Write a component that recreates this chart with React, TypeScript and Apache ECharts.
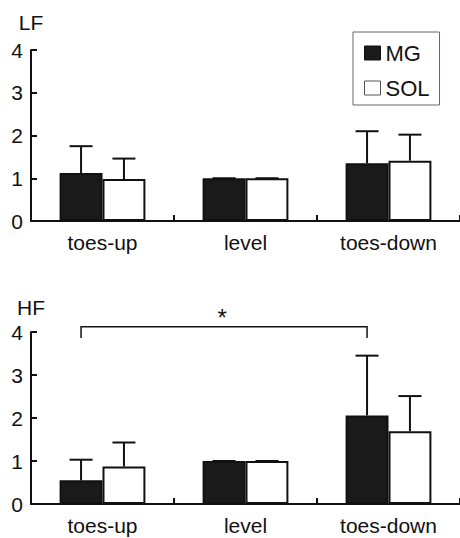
import React, { useEffect, useRef } from "react";
import * as echarts from "echarts";

const categories = ["toes-up", "level", "toes-down"];
const seriesNames = ["MG", "SOL"];

// LF panel (mean and SD)
const lfMG = [1.12, 1.0, 1.35];
const lfMGSD = [0.63, 0, 0.75];
const lfSOL = [0.98, 1.0, 1.41];
const lfSOLSD = [0.48, 0, 0.61];

// HF panel (mean and SD)
const hfMG = [0.55, 1.0, 2.06];
const hfMGSD = [0.48, 0, 1.39];
const hfSOL = [0.87, 1.0, 1.69];
const hfSOLSD = [0.56, 0, 0.82];

const yTicks = [0, 1, 2, 3, 4];
const panelNames = ["LF", "HF"];

// significance annotation (HF panel): toes-up MG vs toes-down MG
const sigFrom = 0;
const sigTo = 2;
const sigLevel = 4.12;
const sigDrop = 3.86;
const sigStarLevel = 4.34;
const sigLabel = "*";

const FONT = "'Liberation Sans', Arial, Helvetica, sans-serif";
const INK = "#111";

function errRender(offsetFactor: number) {
  return (params: any, api: any) => {
    const xi = api.value(0);
    const mean = api.value(1);
    const sd = api.value(2);
    const band = api.size([1, 0])[0];
    const off = offsetFactor * band;
    const base = api.coord([xi, mean]);
    const top = api.coord([xi, mean + sd]);
    const x = base[0] + off;
    const st = { stroke: INK, lineWidth: 2 };
    return {
      type: "group",
      children: [
        { type: "line", shape: { x1: x, y1: base[1], x2: x, y2: top[1] }, style: st },
        { type: "line", shape: { x1: x - 11.5, y1: top[1], x2: x + 11.5, y2: top[1] }, style: st },
      ],
    };
  };
}

function bracketRender(params: any, api: any) {
  const band = api.size([1, 0])[0];
  const off = -0.15 * band;
  const a = api.coord([api.value(0), api.value(2)]);
  const b = api.coord([api.value(1), api.value(2)]);
  const d = api.coord([api.value(0), api.value(3)]);
  const s = api.coord([api.value(0), api.value(4)]);
  const x1 = a[0] + off;
  const x2 = b[0] + off;
  const st = { stroke: INK, lineWidth: 1.5, fill: null };
  return {
    type: "group",
    children: [
      {
        type: "polyline",
        shape: { points: [[x1, d[1]], [x1, a[1]], [x2, a[1]], [x2, d[1]]] },
        style: st,
      },
      {
        type: "text",
        x: (x1 + x2) / 2 - 2,
        y: s[1],
        style: {
          text: sigLabel,
          fontSize: 24,
          fontFamily: FONT,
          fill: INK,
          align: "center",
          verticalAlign: "middle",
        },
      },
    ],
  };
}

export default function App() {
  const ref = useRef<HTMLDivElement>(null);
  useEffect(() => {
    if (!ref.current) return;
    const chart = echarts.init(ref.current, null, { renderer: "svg" });

    const xAxisBase = (gridIndex: number) => ({
      type: "category",
      gridIndex,
      data: categories,
      boundaryGap: true,
      axisLine: { lineStyle: { color: INK, width: 2 } },
      axisTick: { show: true, inside: true, length: 6, lineStyle: { color: INK, width: 2 } },
      axisLabel: { fontSize: 21, color: INK, fontFamily: FONT, margin: 11 },
      splitLine: { show: false },
    });
    const yAxisBase = (gridIndex: number, name: string, gap: number) => ({
      type: "value",
      gridIndex,
      min: yTicks[0],
      max: yTicks[yTicks.length - 1],
      interval: 1,
      name,
      nameLocation: "end",
      nameGap: gap,
      nameTextStyle: { fontSize: 21, color: INK, fontFamily: FONT, align: "center" },
      axisLine: { show: true, lineStyle: { color: INK, width: 2 } },
      axisTick: { show: true, inside: true, length: 6, lineStyle: { color: INK, width: 2 } },
      axisLabel: { fontSize: 21, color: INK, fontFamily: FONT, margin: 8 },
      splitLine: { show: false },
    });

    const barStyleMG = { color: "#1a1a1a", borderColor: INK, borderWidth: 2 };
    const barStyleSOL = { color: "#ffffff", borderColor: INK, borderWidth: 2 };

    const makeBars = (idx: number, mg: number[], sol: number[]) => [
      {
        name: seriesNames[0],
        type: "bar",
        xAxisIndex: idx,
        yAxisIndex: idx,
        data: mg,
        barWidth: "30%",
        barGap: "0%",
        itemStyle: barStyleMG,
        z: 2,
      },
      {
        name: seriesNames[1],
        type: "bar",
        xAxisIndex: idx,
        yAxisIndex: idx,
        data: sol,
        barWidth: "30%",
        barGap: "0%",
        itemStyle: barStyleSOL,
        z: 2,
      },
    ];
    const makeErr = (idx: number, mean: number[], sd: number[], f: number) => ({
      type: "custom",
      xAxisIndex: idx,
      yAxisIndex: idx,
      renderItem: errRender(f),
      data: mean.map((m, i) => [i, m, sd[i]]),
      z: 3,
      silent: true,
    });

    chart.setOption({
      animation: false,
      backgroundColor: "#ffffff",
      textStyle: { fontFamily: FONT },
      legend: {
        orient: "vertical",
        left: 353,
        top: 32,
        icon: "rect",
        itemWidth: 16,
        itemHeight: 14,
        itemGap: 13,
        padding: [10, 10, 6, 11],
        borderColor: "#666",
        borderWidth: 1,
        textStyle: { fontSize: 22, color: INK, fontFamily: FONT },
        data: [
          { name: seriesNames[0], itemStyle: { color: "#1a1a1a", borderColor: INK, borderWidth: 1 } },
          { name: seriesNames[1], itemStyle: { color: "#ffffff", borderColor: "#555", borderWidth: 1 } },
        ],
      },
      grid: [
        { left: 31, right: -3, top: 50, height: 171 },
        { left: 31, right: -3, top: 332, height: 172 },
      ],
      xAxis: [xAxisBase(0), xAxisBase(1)],
      yAxis: [yAxisBase(0, panelNames[0], 17), yAxisBase(1, panelNames[1], 14)],
      series: [
        ...makeBars(0, lfMG, lfSOL),
        makeErr(0, lfMG, lfMGSD, -0.15),
        makeErr(0, lfSOL, lfSOLSD, 0.15),
        ...makeBars(1, hfMG, hfSOL),
        makeErr(1, hfMG, hfMGSD, -0.15),
        makeErr(1, hfSOL, hfSOLSD, 0.15),
        {
          type: "custom",
          xAxisIndex: 1,
          yAxisIndex: 1,
          clip: false,
          silent: true,
          renderItem: bracketRender,
          data: [[sigFrom, sigTo, sigLevel, sigDrop, sigStarLevel]],
          z: 4,
        },
      ],
    });
    return () => chart.dispose();
  }, []);
  return (
    <div
      ref={ref}
      style={{ position: "fixed", left: 0, top: 0, width: 460, height: 538, background: "#fff" }}
    />
  );
}
